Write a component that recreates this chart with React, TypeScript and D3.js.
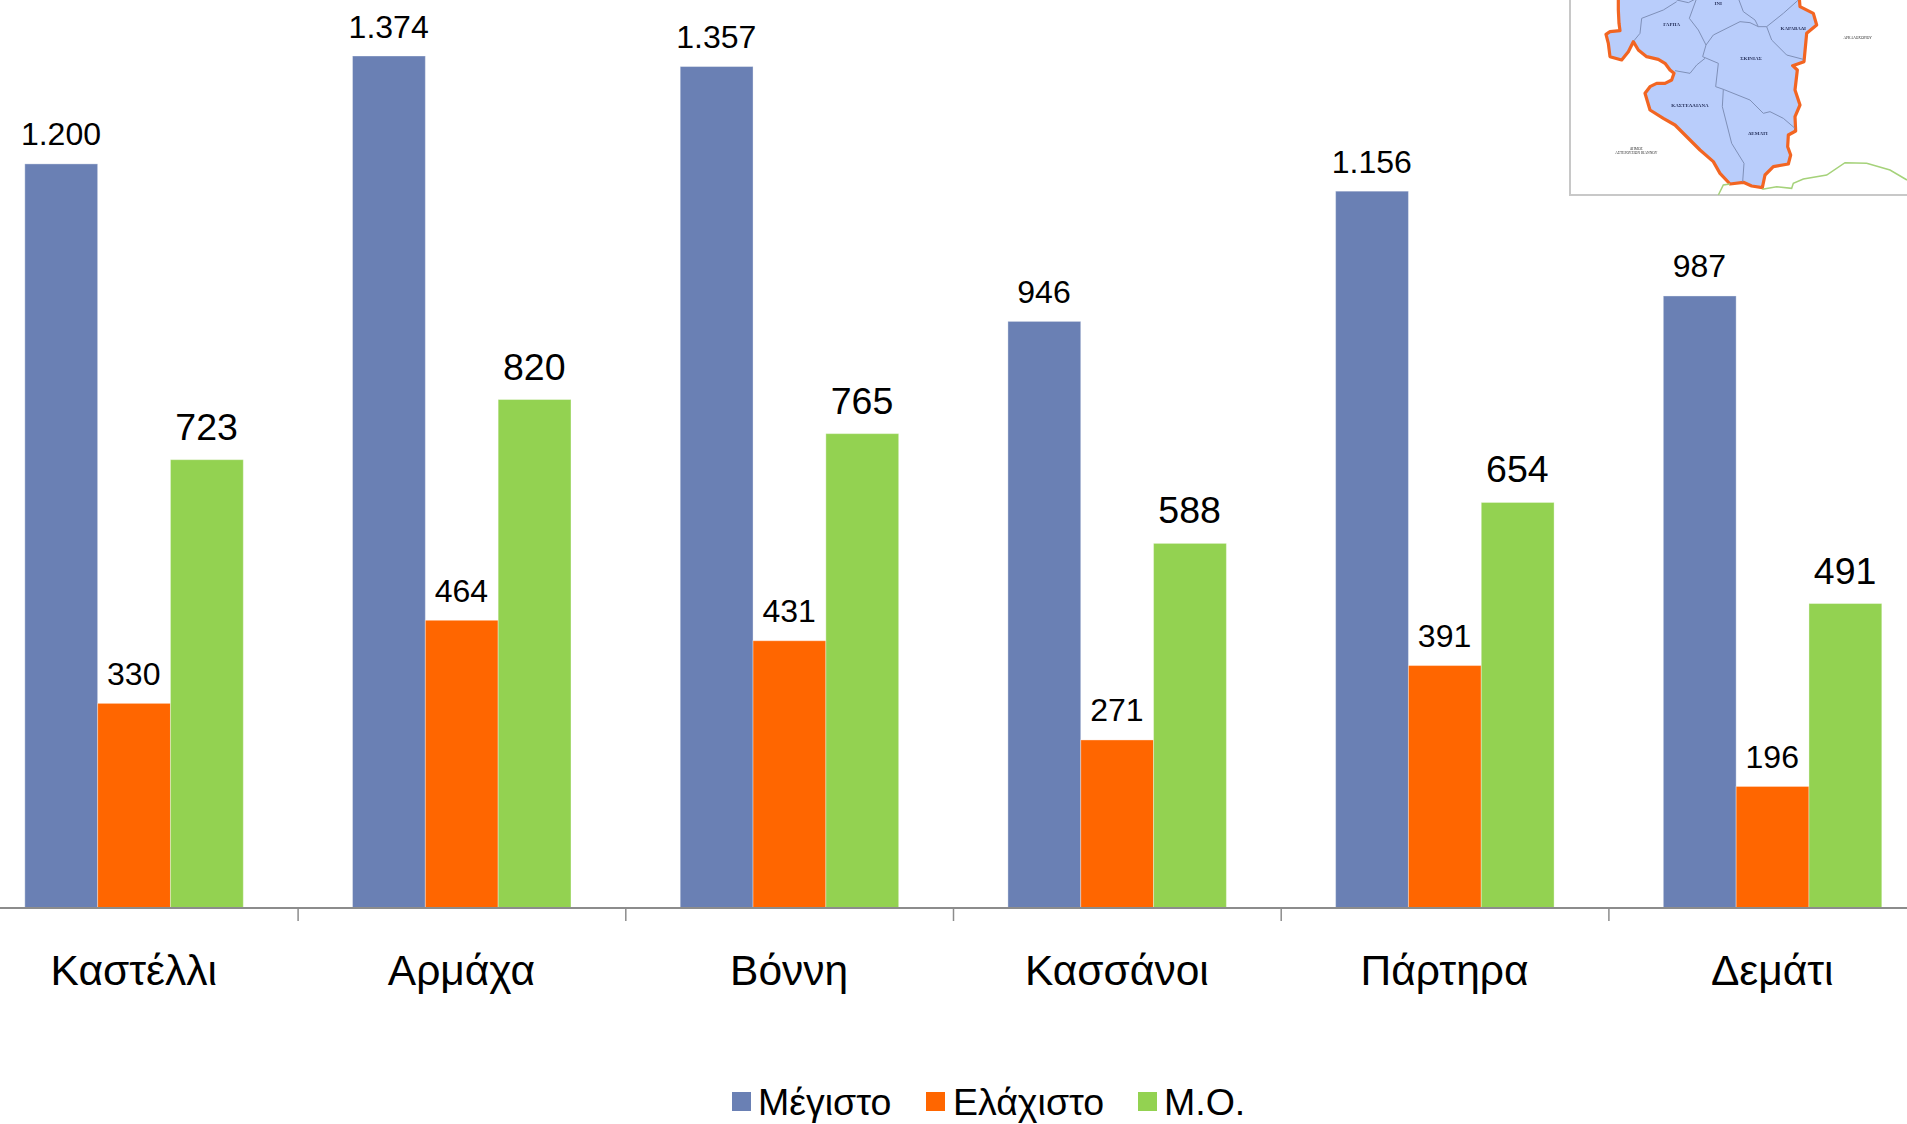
import React from "react";
import * as d3 from "d3";

const categories = ["Καστέλλι", "Αρμάχα", "Βόννη", "Κασσάνοι", "Πάρτηρα", "Δεμάτι"];
const maxValues = [1200, 1374, 1357, 946, 1156, 987];
const minValues = [330, 464, 431, 271, 391, 196];
const avgValues = [723, 820, 765, 588, 654, 491];
const seriesNames = ["Μέγιστο", "Ελάχιστο", "Μ.Ο."];
const seriesColors = ["#6a80b4", "#ff6600", "#93d251"];
const seriesValues = [maxValues, minValues, avgValues];
const labelSizes = [32, 32, 37.5];

// inset map in its own units
const mapOutline: [number, number][] = [
  [205, -40], [205, 30], [207, 70], [210, 92], [180, 95], [168, 103], [175, 130], [180, 170], [215, 180],
  [235, 155], [250, 125], [265, 150], [290, 170], [325, 178], [345, 190], [360, 210], [372, 220], [365, 240],
  [345, 250], [320, 250], [300, 260], [285, 280], [300, 330], [340, 355], [375, 375], [420, 420], [450, 450],
  [490, 485], [510, 520], [540, 552], [580, 547], [605, 558], [637, 563], [645, 525], [670, 500], [715, 492],
  [722, 465], [713, 440], [715, 405], [737, 393], [735, 350], [750, 315], [735, 270], [742, 210], [728, 197],
  [762, 185], [770, 100], [800, 75], [790, 40], [750, 20], [745, -40],
];
const mapBorders: [number, number][][] = [
  [[380, 5], [340, 30], [275, 55], [270, 100], [252, 122]],
  [[380, 0], [415, 8], [440, -5]],
  [[440, -5], [418, 55], [445, 90], [468, 135], [458, 170], [505, 190], [497, 260], [520, 268], [600, 300], [640, 340], [660, 335], [700, 355], [735, 385]],
  [[468, 135], [490, 105], [570, 65], [600, 68], [625, 80], [650, 80], [700, 40], [745, 0]],
  [[565, -5], [580, 35], [615, 60], [625, 80]],
  [[650, 80], [665, 120], [710, 165], [760, 178]],
  [[465, 175], [440, 195], [420, 220], [375, 212]],
  [[520, 268], [517, 320], [545, 430], [582, 490], [578, 545]],
];
const mapBorderRoads: [number, number][][] = [
  [[505, 585], [520, 555], [540, 552]],
  [[637, 568], [680, 560], [725, 565], [730, 550], [760, 537], [830, 525], [885, 488], [950, 490], [1020, 510], [1071, 540]],
];
const mapLabels: [string, number, number][] = [
  ["ΓΑΡΠΑ", 365, 77],
  ["ΙΝΙ", 505, 16],
  ["ΚΑΡΑΒΑΔΙ", 730, 90],
  ["ΣΚΙΝΙΑΣ", 603, 180],
  ["ΚΑΣΤΕΛΛΙΑΝΑ", 420, 322],
  ["ΔΕΜΑΤΙ", 624, 405],
];
const mapNotes: [string, number, number][] = [
  ["ΑΡΚΑΛΟΧΩΡΙΟΥ", 923, 118],
  ["ΔΗΜΟΣ", 259, 450],
  ["ΑΣΤΕΡΟΥΣΙΩΝ ΒΙΑΝΝΟΥ", 259, 462],
];

const W = 1907;
const H = 1124;
const baseY = 908;

const x0 = d3.scaleBand<string>().domain(categories).range([-29.6, 1936.6]).paddingInner(0).paddingOuter(0);
const barW = x0.step() / 4.5;
const x1 = d3.scaleBand<number>().domain([0, 1, 2]).range([0, barW * 3]);
const y = d3.scaleLinear().domain([0, 1374]).range([baseY, 56]);
const fmt = d3.format(",d");
const fmtGr = (v: number) => fmt(v).replace(",", ".");

const mx = d3.scaleLinear().domain([0, 1071]).range([1550, 1907]);
const my = d3.scaleLinear().domain([0, 630]).range([0, 210]);
const mapLine = d3.line<[number, number]>().x(d => mx(d[0])).y(d => my(d[1]));

const legendSwatchX = [732, 926, 1138];
const legendTextX = [758, 953, 1164];

export default function App() {
  return (
    <svg
      width={W}
      height={H}
      viewBox={`0 0 ${W} ${H}`}
      style={{ position: "absolute", left: 0, top: 0, background: "#fff", fontFamily: "'Liberation Sans', Arial, sans-serif" }}
    >
      <defs>
        <filter id="soft" x="-5%" y="-5%" width="110%" height="110%">
          <feGaussianBlur stdDeviation="0.45" />
        </filter>
      </defs>

      {categories.map((c, i) => {
        const gx = x0(c)! + x0.step() / 2 - barW * 1.5 - 0.2;
        return (
          <g key={c} transform={`translate(${gx},0)`}>
            {seriesValues.map((vals, s) => (
              <g key={s}>
                <rect
                  x={x1(s)}
                  y={y(vals[i])}
                  width={x1.bandwidth()}
                  height={baseY - y(vals[i])}
                  fill={seriesColors[s]}
                  stroke="#fff"
                  strokeOpacity={0.35}
                  strokeWidth={1}
                />
                <text
                  x={x1(s)! + x1.bandwidth() / 2 - 0.3}
                  y={y(vals[i]) - (s === 2 ? 20 : 18.5)}
                  textAnchor="middle"
                  fontSize={labelSizes[s]}
                  fill="#000"
                >
                  {fmtGr(vals[i])}
                </text>
              </g>
            ))}
          </g>
        );
      })}

      <line x1={0} x2={W} y1={baseY} y2={baseY} stroke="#8c8c8c" strokeWidth={2} />
      {categories.slice(1).map(c => (
        <line key={c} x1={x0(c)} x2={x0(c)} y1={baseY} y2={baseY + 13} stroke="#8c8c8c" strokeWidth={1.5} />
      ))}
      {categories.map(c => (
        <text key={c} x={x0(c)! + x0.step() / 2 - 0.5} y={985} textAnchor="middle" fontSize={42.5} fill="#000">
          {c}
        </text>
      ))}

      {seriesNames.map((n, i) => (
        <g key={n}>
          <rect x={legendSwatchX[i]} y={1092} width={19} height={19} fill={seriesColors[i]} />
          <text x={legendTextX[i]} y={1115} fontSize={37.5} fill="#000">
            {n}
          </text>
        </g>
      ))}

      {/* inset map */}
      <rect x={1570} y={-5} width={345} height={200} fill="#fff" stroke="#c8c8c8" strokeWidth={2} />
      <g filter="url(#soft)">
        <path d={mapLine(mapOutline) ?? ""} fill="#b9cdfb" stroke="#f26522" strokeWidth={3.2} strokeLinejoin="round" />
        {mapBorders.map((b, i) => (
          <path key={i} d={mapLine(b) ?? ""} fill="none" stroke="#7f90b8" strokeWidth={1} />
        ))}
        {mapBorderRoads.map((b, i) => (
          <path key={i} d={mapLine(b) ?? ""} fill="none" stroke="#a5d27a" strokeWidth={1.5} />
        ))}
        {mapLabels.map(([t, a, b]) => (
          <text key={t} x={mx(a)} y={my(b)} textAnchor="middle" fontSize={5} fontWeight="bold" fontFamily="'Liberation Serif', serif" fill="#2a3560">
            {t}
          </text>
        ))}
        {mapNotes.map(([t, a, b]) => (
          <text key={t} x={mx(a)} y={my(b)} textAnchor="middle" fontSize={3.6} fontFamily="'Liberation Serif', serif" fill="#333">
            {t}
          </text>
        ))}
      </g>
    </svg>
  );
}
